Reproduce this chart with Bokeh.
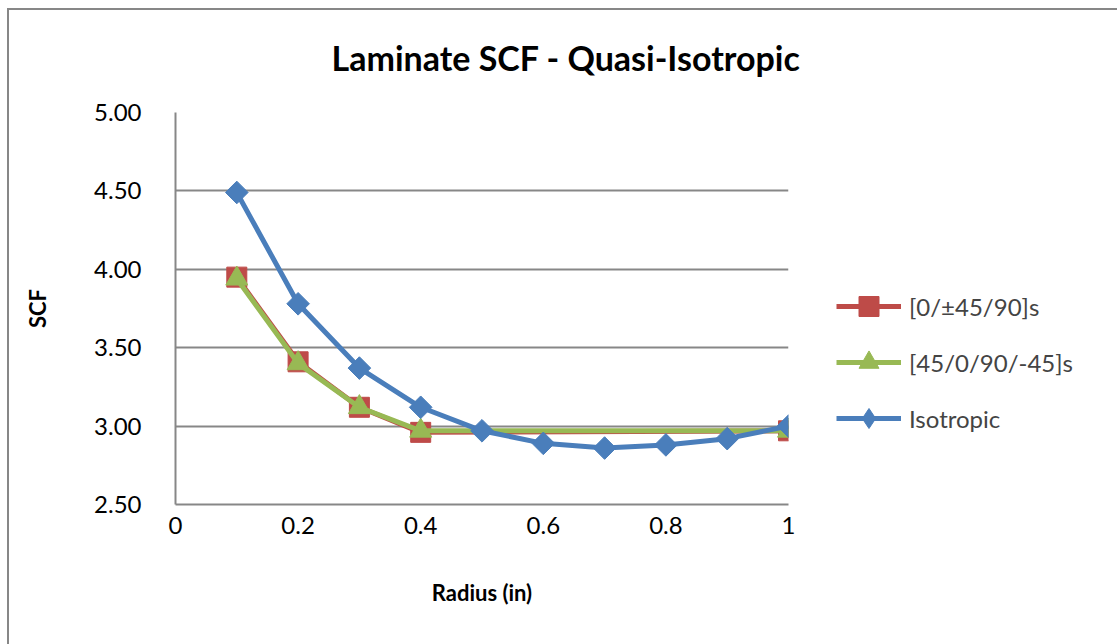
import math
from bokeh.plotting import figure
from bokeh.models import (Range1d, FixedTicker, Legend, LegendItem, Title,
                          NumeralTickFormatter)
from bokeh.embed import file_html
from bokeh.resources import INLINE

radius_iso = [0.1, 0.2, 0.3, 0.4, 0.5, 0.6, 0.7, 0.8, 0.9, 1.0]
scf_iso = [4.49, 3.78, 3.37, 3.12, 2.97, 2.89, 2.86, 2.88, 2.92, 3.00]
radius_lam = [0.1, 0.2, 0.3, 0.4, 1.0]
scf_quasi_a = [3.95, 3.41, 3.12, 2.96, 2.97]
scf_quasi_b = [3.94, 3.40, 3.12, 2.97, 2.97]
x_ticks = [0, 0.2, 0.4, 0.6, 0.8, 1.0]
x_tick_labels = ["0", "0.2", "0.4", "0.6", "0.8", "1"]
y_ticks = [2.5, 3.0, 3.5, 4.0, 4.5, 5.0]

FONT = "Lato"
RED = "#BE4B48"
GREEN = "#98B954"
BLUE = "#4A7EBB"
GRID = "#878787"

p = figure(frame_width=613, frame_height=392, output_backend="svg", toolbar_location=None,
           x_range=Range1d(0, 1), y_range=Range1d(2.5, 5.0),
           min_border_left=175, min_border_right=0, min_border_top=112, min_border_bottom=140)
p.outline_line_color = None
p.background_fill_color = "white"
p.border_fill_color = None
p.styles = {"background-color": "white",
            "box-shadow": "inset 7px 8px 0 0 white, inset 9px 10px 0 0 " + GRID}

p.xaxis.ticker = FixedTicker(ticks=x_ticks)
p.xaxis.major_label_overrides = {t: l for t, l in zip(x_ticks, x_tick_labels)}
p.yaxis.ticker = FixedTicker(ticks=y_ticks)
p.yaxis.formatter = NumeralTickFormatter(format="0.00")
for ax in (p.xaxis, p.yaxis):
    ax.major_tick_line_color = None
    ax.minor_tick_line_color = None
    ax.axis_line_color = GRID
    ax.axis_line_width = 2
    ax.major_label_text_font = FONT
    ax.major_label_text_font_size = "24px"
    ax.major_label_text_color = "black"
    ax.axis_label_text_font = FONT
    ax.axis_label_text_font_style = "bold"
    ax.axis_label_text_font_size = "22px"
    ax.axis_label_text_color = "black"
p.yaxis.major_label_standoff = 28
p.xaxis.major_label_standoff = 6
p.xaxis.axis_label = "Radius (in)"
p.yaxis.axis_label = "SCF"
p.xaxis.axis_label_standoff = 42
p.yaxis.axis_label_standoff = 40

p.xgrid.grid_line_color = None
p.ygrid.ticker = FixedTicker(ticks=y_ticks)
p.ygrid.grid_line_color = GRID
p.ygrid.grid_line_width = 2

r1l = p.line(radius_lam, scf_quasi_a, line_color=RED, line_width=5)
r1m = p.scatter(radius_lam, scf_quasi_a, marker="square", size=20, fill_color=RED, line_color=RED)
r2l = p.line(radius_lam, scf_quasi_b, line_color=GREEN, line_width=5)
r2m = p.scatter(radius_lam, scf_quasi_b, marker="triangle", size=22, fill_color=GREEN, line_color=GREEN)
r3l = p.line(radius_iso, scf_iso, line_color=BLUE, line_width=5)
r3m = p.scatter(radius_iso, scf_iso, marker="square", angle=math.pi / 4, size=16,
                fill_color=BLUE, line_color=BLUE)
# diamond used only for the legend swatch
r3k = p.scatter(radius_iso, scf_iso, marker="diamond", size=26,
                fill_color=BLUE, line_color=BLUE, visible=False)

legend = Legend(items=[
    LegendItem(label="[0/\u00b145/90]s", renderers=[r1l, r1m]),
    LegendItem(label="[45/0/90/-45]s", renderers=[r2l, r2m]),
    LegendItem(label="Isotropic", renderers=[r3l, r3k]),
], location=(48, 61))
legend.border_line_color = None
legend.background_fill_alpha = 0
legend.inactive_fill_alpha = 0
legend.label_text_font = FONT
legend.label_text_font_size = "24px"
legend.glyph_width = 65
legend.glyph_height = 50
legend.spacing = 6
legend.label_standoff = 8
p.add_layout(legend, "right")

title = Title(text="Laminate SCF - Quasi-Isotropic", align="left", offset=156,
              text_font=FONT, text_font_style="bold", text_font_size="34px",
              text_color="black", standoff=69)
p.add_layout(title, "above")

open("out.html", "w").write(file_html(p, INLINE))
